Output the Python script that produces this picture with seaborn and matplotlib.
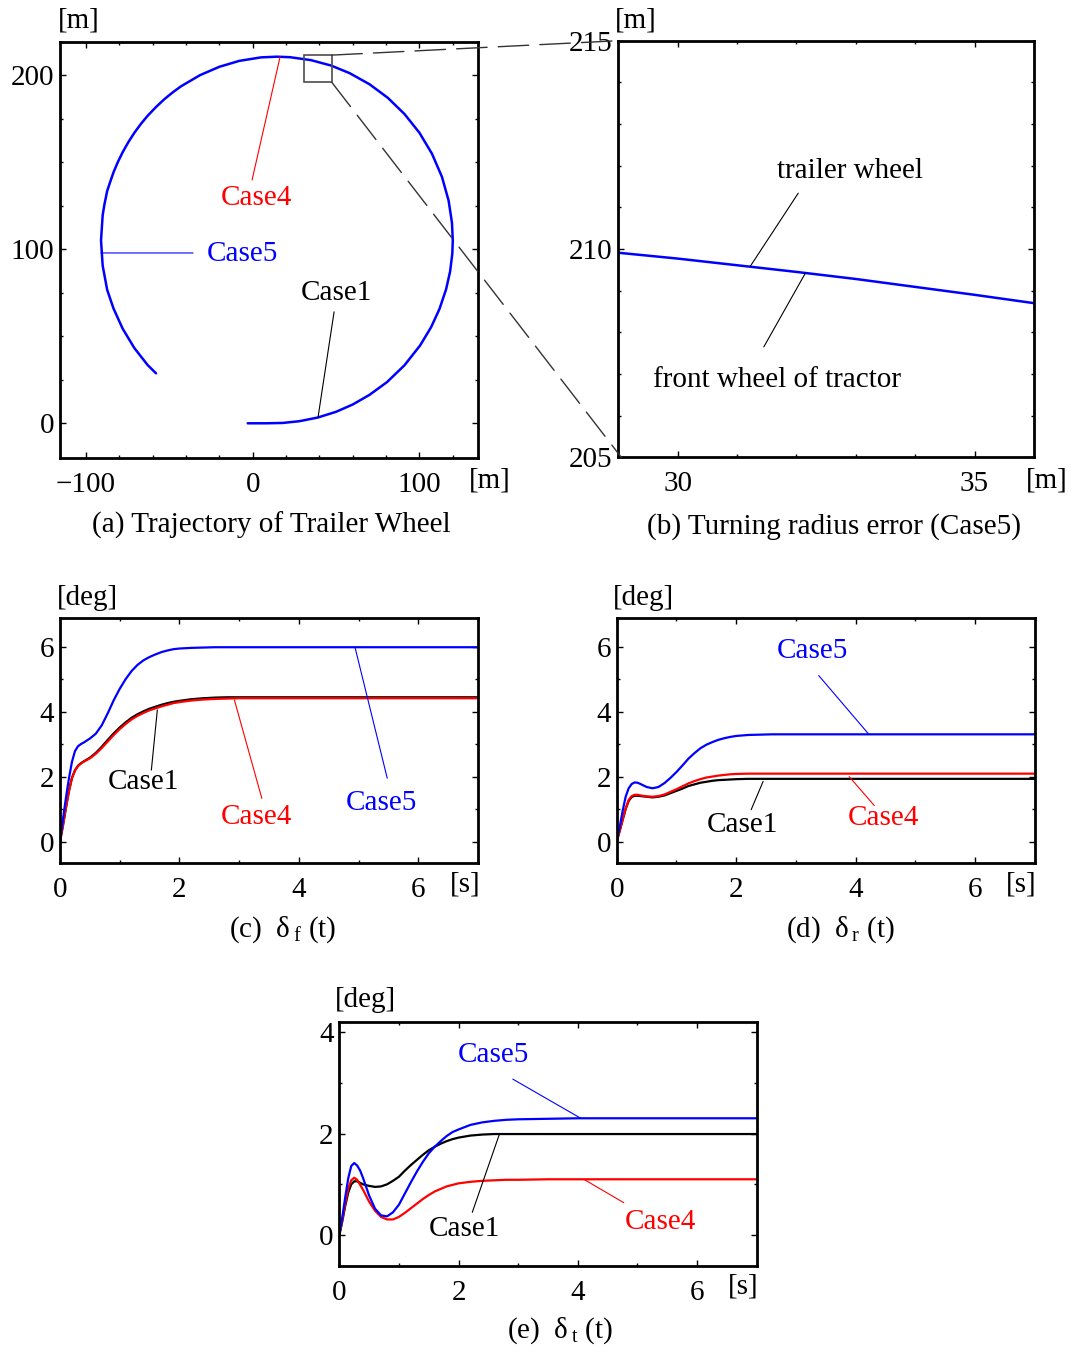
#!/usr/bin/env python3
import pandas as pd
import seaborn as sns
import matplotlib.pyplot as plt
from matplotlib.patches import Rectangle, ConnectionPatch
from matplotlib.ticker import MultipleLocator

# (a) trajectory of trailer wheel [m]
traj_x = [-3, 8, 18, 28, 39, 50, 60, 70, 80.6, 91, 100.4, 107, 112, 116, 118.4, 119.7, 120,
          119.5, 117.5, 113.5, 107.5, 100, 91, 81, 70, 58, 47, 35, 22.4, 14.5, 5, -8, -20,
          -31.6, -43, -48, -53, -58, -63, -67, -71, -74.5, -78, -81, -83.5, -85.5, -87.3, -89,
          -90, -91, -90, -87.3, -83.5, -78, -71, -63, -58]
traj_y = [0, 0, 0.2, 1.2, 3.3, 6.6, 10.8, 16.3, 23.7, 33.3, 44.7, 55.2, 65.6, 77.0, 87.2, 97.3, 105,
          115.2, 127.8, 141.5, 154.8, 166.8, 177.6, 186.9, 194.7, 201.1, 205.4, 208.5, 210.2,
          210.5, 210.1, 208.1, 204.7, 199.9, 193.5, 190.0, 186.1, 181.6, 176.6, 172.0, 166.8,
          161.6, 155.7, 149.8, 144.1, 138.6, 133.4, 125.4, 119.5, 105, 90.5, 76.6, 65.9,
          54.3, 43.2, 33.4, 28.7]

# (b) close-up of the turning radius (Case5)
close_x = [29, 30, 31, 32, 33, 34, 35, 36]
close_y = [209.91, 209.77, 209.61, 209.45, 209.28, 209.09, 208.90, 208.70]

# time axis [s] shared by (c)-(e)
t = [0, 0.05, 0.1, 0.15, 0.2, 0.25, 0.3, 0.35, 0.4,
     0.5, 0.6, 0.7, 0.8, 0.9, 1.0, 1.1, 1.2, 1.3, 1.4, 1.5, 1.6, 1.7, 1.8, 1.9,
     2.0, 2.2, 2.4, 2.6, 2.8, 3.0, 3.5, 4, 5, 6, 7]

# (c) delta_f [deg]
df_case1 = [0, 0.5, 1.05, 1.56, 1.96, 2.19, 2.33, 2.41, 2.47,
            2.58, 2.73, 2.92, 3.13, 3.33, 3.51, 3.67, 3.81, 3.92, 4.01, 4.09, 4.15, 4.21, 4.26, 4.30,
            4.33, 4.38, 4.41, 4.43, 4.44, 4.44, 4.44, 4.44, 4.44, 4.44, 4.44]
df_case4 = [0, 0.5, 1.05, 1.55, 1.95, 2.18, 2.32, 2.40, 2.46,
            2.56, 2.70, 2.88, 3.08, 3.28, 3.46, 3.62, 3.76, 3.87, 3.96, 4.04, 4.10, 4.16, 4.21, 4.26,
            4.29, 4.34, 4.37, 4.39, 4.40, 4.41, 4.41, 4.41, 4.41, 4.41, 4.41]
df_case5 = [0, 0.7, 1.35, 1.95, 2.45, 2.78, 2.93, 3.0, 3.05,
            3.17, 3.32, 3.58, 3.95, 4.35, 4.70, 5.0, 5.25, 5.44, 5.58, 5.68, 5.76, 5.83, 5.88, 5.92,
            5.94, 5.96, 5.97, 5.98, 5.98, 5.98, 5.98, 5.98, 5.98, 5.98, 5.98]

# (d) delta_r [deg]
dr_case1 = [0, 0.33, 0.67, 1.0, 1.25, 1.37, 1.41, 1.41, 1.40,
            1.38, 1.36, 1.38, 1.42, 1.49, 1.56, 1.63, 1.71, 1.76, 1.81, 1.84, 1.87, 1.89, 1.90, 1.91,
            1.92, 1.93, 1.93, 1.93, 1.93, 1.93, 1.93, 1.93, 1.93, 1.93, 1.93]
dr_case4 = [0, 0.33, 0.68, 1.02, 1.28, 1.40, 1.44, 1.44, 1.42,
            1.39, 1.38, 1.40, 1.45, 1.53, 1.61, 1.70, 1.79, 1.86, 1.92, 1.97, 2.00, 2.03, 2.05, 2.07,
            2.08, 2.09, 2.09, 2.09, 2.09, 2.09, 2.09, 2.09, 2.09, 2.09, 2.09]
dr_case5 = [0, 0.45, 0.95, 1.38, 1.64, 1.77, 1.82, 1.81, 1.77,
            1.68, 1.64, 1.68, 1.80, 1.96, 2.14, 2.34, 2.55, 2.72, 2.87, 2.98, 3.06, 3.13, 3.18, 3.22,
            3.25, 3.28, 3.29, 3.30, 3.30, 3.30, 3.30, 3.30, 3.30, 3.30, 3.30]

# (e) delta_t [deg]
dt_case1 = [0, 0.27, 0.58, 0.84, 1.0, 1.06, 1.06, 1.03, 1.0,
            0.97, 0.95, 0.96, 1.0, 1.07, 1.15, 1.27, 1.38, 1.48, 1.58, 1.67, 1.74, 1.80, 1.85, 1.89,
            1.92, 1.96, 1.98, 1.99, 1.99, 1.99, 1.99, 1.99, 1.99, 1.99, 1.99]
dt_case4 = [0, 0.3, 0.63, 0.92, 1.08, 1.13, 1.09, 0.99, 0.89,
            0.66, 0.48, 0.36, 0.31, 0.31, 0.36, 0.44, 0.53, 0.62, 0.71, 0.79, 0.86, 0.91, 0.96, 0.99,
            1.02, 1.05, 1.07, 1.08, 1.09, 1.09, 1.10, 1.10, 1.10, 1.10, 1.10]
dt_case5 = [0, 0.35, 0.75, 1.12, 1.36, 1.42, 1.37, 1.27, 1.12,
            0.78, 0.52, 0.39, 0.37, 0.45, 0.60, 0.82, 1.04, 1.25, 1.44, 1.61, 1.74, 1.85, 1.95, 2.03,
            2.08, 2.17, 2.22, 2.25, 2.27, 2.28, 2.29, 2.30, 2.30, 2.30, 2.30]

cases = ["Case1", "Case4", "Case5"]
colors = {"Case1": "black", "Case4": "red", "Case5": "blue"}

W, H = 1075, 1352
FS = 21


def box(l, top, r, b):
    return [l / W, 1 - b / H, (r - l) / W, (b - top) / H]


def ftext(fig, x, y, s, **kw):
    kw.setdefault("ha", "center")
    kw.setdefault("va", "center")
    fig.text(x / W, 1 - y / H, s, fontsize=FS, color="black", **kw)


def style(ax, xmaj, xmin, ymaj, ymin):
    ax.xaxis.set_major_locator(MultipleLocator(xmaj))
    ax.xaxis.set_minor_locator(MultipleLocator(xmin))
    ax.yaxis.set_major_locator(MultipleLocator(ymaj))
    ax.yaxis.set_minor_locator(MultipleLocator(ymin))
    ax.tick_params(which="both", direction="in", top=True, right=True, width=1.0,
                   color="black", labelsize=FS, labelcolor="black")
    ax.tick_params(which="major", length=4.5)
    ax.tick_params(which="minor", length=2.5)
    ax.tick_params(axis="x", pad=10)
    ax.tick_params(axis="y", pad=4)
    for s in ax.spines.values():
        s.set_linewidth(2.0)
        s.set_color("black")
    ax.set_xlabel("")
    ax.set_ylabel("")
    ax.grid(False)


def leader(ax, start, end, color):
    ax.annotate("", xy=end, xytext=start,
                arrowprops=dict(arrowstyle="-", color=color, lw=0.8, shrinkA=0, shrinkB=0))


def label(ax, x, y, s, color):
    ax.text(x, y, s, color=color, fontsize=FS, ha="center", va="center")


def time_panel(ax, c1, c4, c5):
    d = pd.DataFrame({"t": t * 3, "deg": c1 + c4 + c5,
                      "case": ["Case1"] * len(t) + ["Case4"] * len(t) + ["Case5"] * len(t)})
    sns.lineplot(data=d, x="t", y="deg", hue="case", hue_order=cases, palette=colors,
                 linewidth=1.6, legend=False, ax=ax)
    ax.set_xlim(0, 7)
    style(ax, 2, 1, 2, 1)


def main():
    sns.set_theme(style="ticks")
    plt.rcParams["font.family"] = ["Liberation Serif", "DejaVu Serif"]
    plt.rcParams["mathtext.fontset"] = "custom"
    plt.rcParams["mathtext.rm"] = "Liberation Serif"
    plt.rcParams["axes.unicode_minus"] = True
    plt.rcParams["text.color"] = "black"

    fig = plt.figure(figsize=(W / 100, H / 100), dpi=100)

    # (a)
    ax_a = fig.add_axes(box(60, 41.7, 478.3, 458.3))
    sns.lineplot(x=traj_x, y=traj_y, sort=False, estimator=None, color="blue",
                 linewidth=1.8, ax=ax_a)
    ax_a.set_xlim(-115.6, 135.3)
    ax_a.set_ylim(-20.1, 219.1)
    style(ax_a, 100, 20, 100, 25)
    ax_a.add_patch(Rectangle((30.8, 195.8), 16.6, 15.6, fill=False, ec="0.3", lw=1.2, zorder=3))
    label(ax_a, 2, 129.4, "Case4", "red")
    leader(ax_a, (-0.4, 139.7), (16.4, 210.4), "red")
    label(ax_a, -6.4, 97.2, "Case5", "blue")
    leader(ax_a, (-35.8, 97.8), (-91, 97.8), "blue")
    label(ax_a, 50, 74.8, "Case1", "black")
    leader(ax_a, (48.8, 64.0), (39.2, 3.6), "black")

    # (b)
    ax_b = fig.add_axes(box(618.3, 40.7, 1034, 457.3))
    sns.lineplot(x=close_x, y=close_y, color="blue", linewidth=1.8, ax=ax_b)
    ax_b.set_xlim(29, 36)
    ax_b.set_ylim(205, 215)
    style(ax_b, 5, 1, 5, 1)
    label(ax_b, 32.9, 211.87, "trailer wheel", "black")
    leader(ax_b, (32.03, 211.34), (31.22, 209.58), "black")
    label(ax_b, 31.68, 206.85, "front wheel of tractor", "black")
    leader(ax_b, (31.45, 207.65), (32.15, 209.42), "black")

    for pa, pb in [((47.4, 211.4), (29, 215)), ((47.4, 195.8), (29.05, 205))]:
        con = ConnectionPatch(xyA=pa, coordsA=ax_a.transData, xyB=pb, coordsB=ax_b.transData,
                              color="0.2", lw=1.0, linestyle=(0, (22, 8)), zorder=5)
        fig.add_artist(con)

    # (c)
    ax_c = fig.add_axes(box(60, 618.3, 478, 862.7))
    time_panel(ax_c, df_case1, df_case4, df_case5)
    ax_c.set_ylim(-0.65, 6.87)
    label(ax_c, 1.39, 1.83, "Case1", "black")
    leader(ax_c, (1.53, 2.2), (1.63, 4.05), "black")
    label(ax_c, 3.29, 0.75, "Case4", "red")
    leader(ax_c, (3.38, 1.33), (2.92, 4.36), "red")
    label(ax_c, 5.39, 1.18, "Case5", "blue")
    leader(ax_c, (5.48, 1.95), (4.94, 5.98), "blue")

    # (d)
    ax_d = fig.add_axes(box(616.7, 618.3, 1035, 862.7))
    time_panel(ax_d, dr_case1, dr_case4, dr_case5)
    ax_d.set_ylim(-0.65, 6.87)
    label(ax_d, 3.28, 5.87, "Case5", "blue")
    leader(ax_d, (3.38, 5.11), (4.22, 3.30), "blue")
    label(ax_d, 4.46, 0.74, "Case4", "red")
    leader(ax_d, (4.31, 1.11), (3.89, 2.0), "red")
    label(ax_d, 2.11, 0.51, "Case1", "black")
    leader(ax_d, (2.25, 0.98), (2.45, 1.85), "black")

    # (e)
    ax_e = fig.add_axes(box(339.3, 1021.7, 756.7, 1265.7))
    time_panel(ax_e, dt_case1, dt_case4, dt_case5)
    ax_e.set_ylim(-0.6, 4.2)
    label(ax_e, 2.58, 3.54, "Case5", "blue")
    leader(ax_e, (2.91, 3.07), (4.05, 2.30), "blue")
    label(ax_e, 2.10, 0.13, "Case1", "black")
    leader(ax_e, (2.23, 0.45), (2.68, 1.97), "black")
    label(ax_e, 5.39, 0.26, "Case4", "red")
    leader(ax_e, (4.77, 0.64), (4.1, 1.10), "red")

    # units and captions
    ftext(fig, 79, 20, "[m]")
    ftext(fig, 490, 480, "[m]")
    ftext(fig, 636, 20, "[m]")
    ftext(fig, 1047, 480, "[m]")
    ftext(fig, 87, 598, "[deg]")
    ftext(fig, 465, 884, "[s]")
    ftext(fig, 643, 598, "[deg]")
    ftext(fig, 1021, 884, "[s]")
    ftext(fig, 365, 1000, "[deg]")
    ftext(fig, 743, 1287, "[s]")

    ftext(fig, 271, 533, "(a) Trajectory of Trailer Wheel", va="baseline")
    ftext(fig, 834, 534, "(b) Turning radius error (Case5)", va="baseline")
    ftext(fig, 283, 937, r"(c)  δ$_{\,\mathrm{f}}$ (t)", va="baseline")
    ftext(fig, 840, 937, r"(d)  δ$_{\,\mathrm{r}}$ (t)", va="baseline")
    ftext(fig, 560, 1338, r"(e)  δ$_{\,\mathrm{t}}$ (t)", va="baseline")

    fig.savefig("out.png", dpi=100)


if __name__ == "__main__":
    main()
